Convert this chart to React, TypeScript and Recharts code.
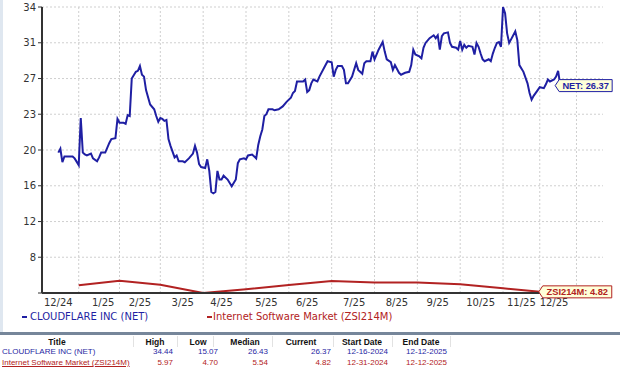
import React from "react";
import { LineChart, Line, XAxis, YAxis, CartesianGrid } from "recharts";

// x = trading session index from 12-16-2024
const NET_IDX = [
  0, 1, 2, 3, 4, 7, 8, 10, 11, 12, 13, 14, 16, 17, 19, 20, 21, 23, 25, 26, 28, 29, 30, 32, 33, 34, 35, 36, 38,
  39, 40, 41, 42, 43, 45, 47, 48, 49, 50, 51, 52, 53, 54, 55, 57, 58, 59, 61, 62, 64, 66, 67, 68, 69, 70, 72, 73,
  74, 75, 76, 77, 78, 79, 80, 81, 83, 85, 87, 88, 89, 91, 92, 93, 95, 97, 98, 99, 100, 101, 102, 103, 105, 106,
  108, 110, 112, 114, 115, 116, 117, 119, 120, 121, 122, 123, 124, 125, 127, 128, 131, 132, 134, 135, 136, 137,
  139, 140, 141, 142, 144, 146, 147, 149, 150, 151, 153, 154, 155, 157, 159, 160, 161, 163, 164, 165, 167, 168,
  170, 172, 173, 174, 175, 177, 178, 179, 180, 182, 184, 185, 186, 187, 188, 189, 191, 192, 193, 195, 196, 197,
  198, 199, 200, 201, 203, 204, 205, 206, 207, 208, 209, 211, 212, 213, 214, 215, 216, 217, 218, 219, 220, 221,
  222, 224, 225, 226, 228, 230, 231, 232, 233, 235, 236, 238, 239, 240, 241, 243, 244, 245, 246,
];
const NET_VAL = [
  19.3, 19.7, 18.3, 18.9, 18.9, 18.9, 18.7, 18.0, 22.9, 19.3, 19.1, 19.0, 19.2, 18.7, 18.4, 18.8, 19.3, 19.3, 20.3,
  20.7, 20.8, 22.8, 22.4, 22.4, 22.3, 23.2, 23.1, 27.0, 27.7, 27.8, 28.3, 27.4, 27.2, 25.8, 24.3, 23.8, 23.1, 22.5,
  22.9, 22.8, 22.6, 22.7, 20.7, 20.0, 18.8, 19.0, 18.4, 18.4, 18.3, 18.7, 19.2, 20.0, 19.3, 18.1, 17.8, 17.7, 18.6,
  17.4, 15.2, 15.07, 15.2, 17.4, 16.5, 16.5, 16.9, 16.5, 15.8, 16.5, 18.2, 18.6, 18.7, 18.6, 19.0, 19.1, 18.7, 20.1,
  21.0, 21.7, 23.1, 23.3, 23.8, 23.8, 23.7, 23.8, 24.1, 24.6, 25.0, 25.5, 25.7, 26.7, 26.7, 26.7, 26.9, 25.6, 25.8,
  26.5, 26.9, 26.7, 27.2, 28.4, 28.8, 28.7, 27.2, 27.9, 28.3, 28.3, 27.9, 26.5, 26.5, 27.2, 28.6, 27.9, 27.5, 28.6,
  28.8, 28.8, 29.8, 29.0, 30.0, 30.8, 29.8, 29.0, 28.7, 27.9, 28.4, 27.6, 27.4, 27.6, 27.7, 28.4, 30.0, 29.5, 29.3,
  29.1, 30.2, 30.7, 31.2, 31.5, 31.2, 31.5, 30.0, 31.4, 31.7, 31.8, 30.7, 30.3, 30.2, 30.0, 30.9, 30.0, 30.5, 30.2,
  30.4, 30.3, 29.5, 30.7, 30.3, 29.6, 29.0, 28.8, 29.0, 28.8, 29.6, 30.2, 30.7, 30.8, 30.3, 34.44, 33.8, 31.7, 30.7,
  31.1, 31.9, 31.0, 28.4, 27.7, 26.5, 25.5, 24.8, 25.2, 25.8, 26.1, 26.0, 26.4, 26.9, 26.7, 26.9, 27.2, 27.8, 26.37,
];
const ZSI_IDX = [10, 30, 50, 71, 92, 113, 134, 155, 176, 197, 218, 236];
const ZSI_VAL = [5.5, 5.97, 5.56, 4.7, 5.08, 5.52, 5.95, 5.8, 5.78, 5.62, 5.2, 4.82];

const MONTH_POS = [0, 22, 40, 61, 80, 102, 122, 145, 166, 186, 207, 227, 243];
const MONTH_LABELS = ["12/24", "1/25", "2/25", "3/25", "4/25", "5/25", "6/25", "7/25", "8/25", "9/25", "10/25", "11/25", "12/25"];
const GRID_POS = [10, 30, 50, 71, 92, 113, 134, 155, 176, 197, 218, 236, 254];
const Y_TICKS = [4.7, 8.42, 12.13, 15.85, 19.57, 23.29, 27.0, 30.72, 34.44];

const SERIES_NAMES = ["CLOUDFLARE INC (NET)", "Internet Software Market (ZSI214M)"];
const SERIES_TAGS = ["NET", "ZSI214M"];
const TABLE_HEAD = ["Title", "High", "Low", "Median", "Current", "Start Date", "End Date"];
const NET_ROW = ["34.44", "15.07", "26.43", "26.37", "12-16-2024", "12-12-2025"];
const ZSI_ROW = ["5.97", "4.70", "5.54", "4.82", "12-31-2024", "12-12-2025"];

const BLUE = "#1f1fa3";
const RED = "#b22222";
const AXIS_FONT = "'DejaVu Sans', Verdana, sans-serif";
const TABLE_FONT = "'Liberation Sans', Arial, sans-serif";

const netData = NET_IDX.map((x, i) => ({ x, v: NET_VAL[i] }));
const zsiData = ZSI_IDX.map((x, i) => ({ x, v: ZSI_VAL[i] }));

const makeCallout = (tag: string, color: string, last: number, boxW: number, dx: number, dy: number) =>
  (props: any) => {
    const { x, y, index, value } = props;
    if (index !== last) return null;
    const tipX = x + dx;
    const tipY = y + dy;
    const left = tipX + 4;
    const top = tipY - 6;
    const bottom = tipY + 6;
    return (
      <g>
        <polygon
          points={`${tipX},${tipY} ${left},${top} ${left + boxW},${top} ${left + boxW},${bottom} ${left},${bottom}`}
          fill="#ffffd9"
          stroke={color}
          strokeWidth={1}
        />
        <text
          x={left + boxW / 2}
          y={tipY + 3.3}
          textAnchor="middle"
          fontFamily={TABLE_FONT}
          fontWeight="bold"
          fontSize={9.3}
          fill={color}
        >
          {`${tag}: ${Number(value).toFixed(2)}`}
        </text>
      </g>
    );
  };

// header centres and value right edges, in px
const HEAD_X = [57, 155, 198, 245, 301, 362, 421];
const VAL_RIGHT = [173, 218, 268, 331, 388, 447];
const SEPARATORS = [133, 177, 213, 272, 333, 392, 450];

const App: React.FC = () => {
  return (
    <div style={{ position: "absolute", left: 0, top: 0, width: 620, height: 378, background: "#fff", overflow: "hidden" }}>
      <div style={{ position: "absolute", left: 0, top: 0, width: 3, height: 332, background: "#dfe7f0" }} />
      <LineChart width={620} height={330} margin={{ top: 7, right: 17, left: 0, bottom: 0 }}>
        <CartesianGrid stroke="#cfcfcf" strokeDasharray="2 2" verticalValues={GRID_POS} />
        <XAxis
          dataKey="x"
          type="number"
          domain={[-8, 267]}
          ticks={MONTH_POS}
          tickFormatter={(v: number) => MONTH_LABELS[MONTH_POS.indexOf(v)]}
          interval={0}
          height={37}
          tickLine={false}
          tickSize={4}
          tickMargin={2}
          axisLine={{ stroke: "#333", strokeWidth: 2 }}
          tick={{ fontSize: 10, fill: "#333", fontFamily: AXIS_FONT }}
        />
        <YAxis
          type="number"
          domain={[4.7, 34.44]}
          ticks={Y_TICKS}
          interval={0}
          width={42}
          tickFormatter={(v: number) => (v === Y_TICKS[0] ? "" : String(Math.round(v)))}
          tickSize={4}
          tickMargin={2}
          tickLine={{ stroke: "#333" }}
          axisLine={{ stroke: "#333", strokeWidth: 2 }}
          tick={{ fontSize: 10, fill: "#333", fontFamily: AXIS_FONT }}
        />
        <Line
          data={zsiData}
          dataKey="v"
          stroke={RED}
          strokeWidth={2}
          dot={false}
          isAnimationActive={false}
          label={makeCallout(SERIES_TAGS[1], RED, zsiData.length - 1, 69, -1, 0)}
        />
        <Line
          data={netData}
          dataKey="v"
          stroke={BLUE}
          strokeWidth={2}
          dot={false}
          isAnimationActive={false}
          label={makeCallout(SERIES_TAGS[0], BLUE, netData.length - 1, 53, -5, 1)}
        />
      </LineChart>

      {/* legend */}
      <div style={{ position: "absolute", top: 311, left: 0, fontFamily: AXIS_FONT, fontSize: 10, whiteSpace: "nowrap" }}>
        <span style={{ position: "absolute", left: 22, top: 5, width: 5, height: 2, background: BLUE }} />
        <span style={{ position: "absolute", left: 30, top: 0, color: BLUE }}>{SERIES_NAMES[0]}</span>
        <span style={{ position: "absolute", left: 207, top: 5, width: 5, height: 2, background: RED }} />
        <span style={{ position: "absolute", left: 213, top: 0, color: RED }}>{SERIES_NAMES[1]}</span>
      </div>

      {/* divider */}
      <div style={{ position: "absolute", top: 332, left: 0, width: 620, height: 3, background: "#76869a" }} />

      {/* summary table */}
      <div style={{ position: "absolute", top: 336, left: 0, width: 620, height: 42, fontFamily: TABLE_FONT }}>
        {SEPARATORS.map((sx) => (
          <div key={sx} style={{ position: "absolute", left: sx, top: 0, width: 1, height: 11, background: "#e2e2e2" }} />
        ))}
        {TABLE_HEAD.map((h, i) => (
          <div
            key={h}
            style={{
              position: "absolute",
              top: 1,
              left: HEAD_X[i] - 40,
              width: 80,
              textAlign: "center",
              fontSize: 8.5,
              fontWeight: "bold",
              color: "#111",
            }}
          >
            {h}
          </div>
        ))}
        <div style={{ position: "absolute", top: 11, left: 2, fontSize: 8, color: BLUE }}>{SERIES_NAMES[0]}</div>
        <div style={{ position: "absolute", top: 22, left: 2, fontSize: 8, color: RED, textDecoration: "underline" }}>
          {SERIES_NAMES[1]}
        </div>
        {NET_ROW.map((v, i) => (
          <div key={"n" + i} style={{ position: "absolute", top: 11, left: VAL_RIGHT[i] - 60, width: 60, textAlign: "right", fontSize: 8, color: BLUE }}>
            {v}
          </div>
        ))}
        {ZSI_ROW.map((v, i) => (
          <div key={"z" + i} style={{ position: "absolute", top: 22, left: VAL_RIGHT[i] - 60, width: 60, textAlign: "right", fontSize: 8, color: RED }}>
            {v}
          </div>
        ))}
      </div>
    </div>
  );
};

export default App;
